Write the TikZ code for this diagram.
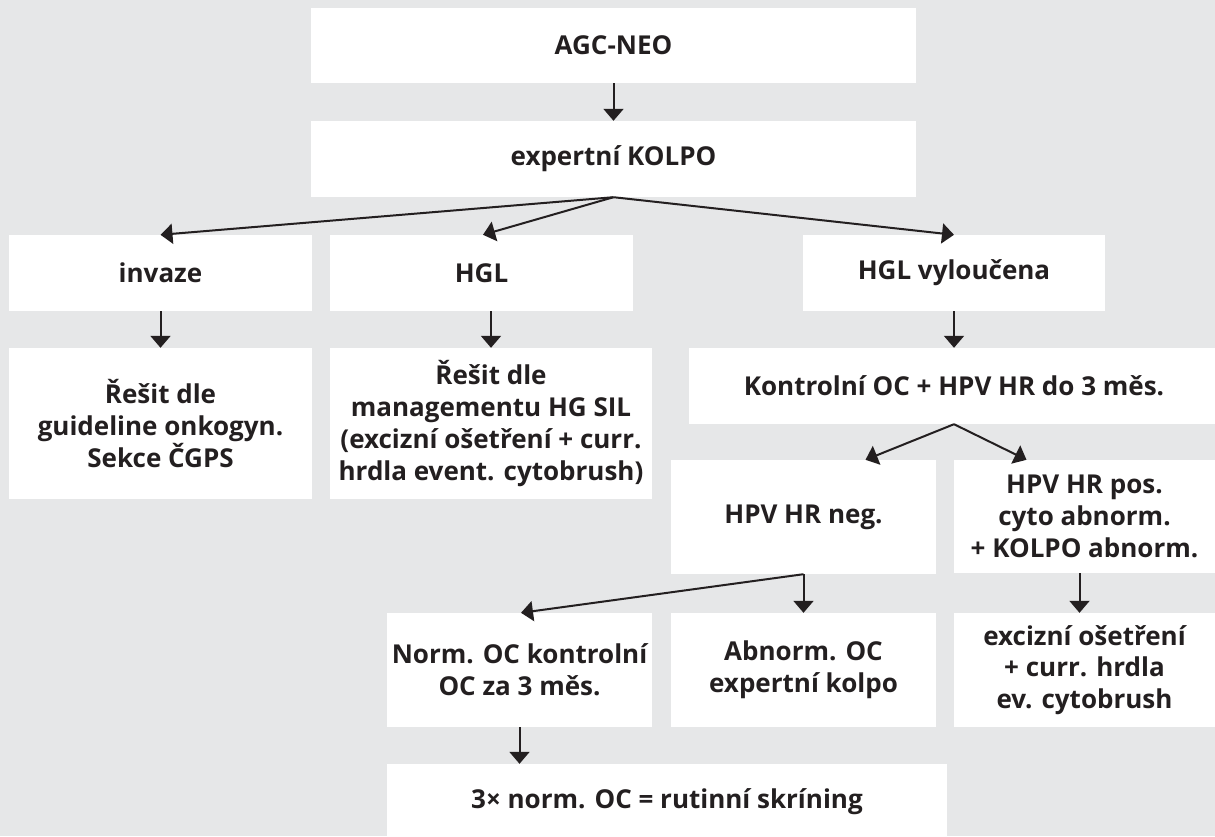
\documentclass[tikz,border=0pt]{standalone}
\usepackage{fontspec}
\setmainfont{Open Sans}
\usetikzlibrary{arrows.meta,calc}
\definecolor{bg}{HTML}{E6E7E8}
\definecolor{ink}{HTML}{231F20}
\begin{document}
\begin{tikzpicture}[x=1pt,y=-1pt,
  box/.style={fill=white, inner sep=0pt, align=center, text=ink,
    font=\fontsize{26}{31.7}\selectfont\bfseries},
  arr/.style={draw=ink, line width=2pt, -{Triangle[length=12pt,width=20pt]}}]
\useasboundingbox (0,0) rectangle (1215,836);
\clip (0,0) rectangle (1215,836);
\fill[bg] (0,0) rectangle (1215,836);

% boxes
\node[box, minimum width=605pt, minimum height=75pt] (agc) at (613.5,45.5) {AGC-NEO};
\node[box, minimum width=605pt, minimum height=76pt] (kolpo) at (613.5,159) {expertní KOLPO};
\node[box, minimum width=303pt, minimum height=76pt] (inv) at (160.5,273) {invaze};
\node[box, minimum width=303pt, minimum height=76pt] (hgl) at (481.5,273) {HGL};
\node[box, minimum width=302pt, minimum height=76pt] (hglv) at (954,273) {HGL vyloučena};
\node[box, minimum width=303pt, minimum height=151pt] (res1) at (160.5,423.5)
  {Řešit dle\\guideline onkogyn.\\Sekce ČGPS};
\node[box, minimum width=322pt, minimum height=151pt] (res2) at (491,423.5)
  {Řešit dle\\managementu HG SIL\\(excizní ošetření + curr.\\hrdla event. cytobrush)};
\node[box, minimum width=530pt, minimum height=76pt] (kontr) at (954,386)
  {Kontrolní OC + HPV HR do 3 měs.};
\node[box, minimum width=265pt, minimum height=114pt] (hpvneg) at (803.5,517) {HPV HR neg.};
\node[box, minimum width=261pt, minimum height=113pt] (hpvpos) at (1084.5,516.5)
  {HPV HR pos.\\cyto abnorm.\\+ KOLPO abnorm.};
\node[box, minimum width=265pt, minimum height=114pt] (norm) at (519.5,670)
  {Norm. OC kontrolní\\OC za 3 měs.};
\node[box, minimum width=265pt, minimum height=114pt] (abn) at (803.5,670)
  {Abnorm. OC\\expertní kolpo};
\node[box, minimum width=261pt, minimum height=114pt] (exc) at (1084.5,670)
  {excizní ošetření\\+ curr. hrdla\\ev. cytobrush};
\node[box, minimum width=560pt, minimum height=76pt] (rout) at (667,802)
  {3× norm. OC = rutinní skríning};

% connectors
\draw[arr] (agc.south) -- (kolpo.north);
\draw[arr] (kolpo.south) -- (inv.north);
\draw[arr] (kolpo.south) -- ($(hgl.north)+(1.5,0)$);
\draw[arr] (kolpo.south) -- (hglv.north);
\draw[arr] (inv.south) -- (res1.north);
\draw[arr] (res2.north |- hgl.south) -- (res2.north);
\draw[arr] (hglv.south) -- (kontr.north);
\draw[arr] (kontr.south) -- ($(hpvneg.north)+(62,0)$);
\draw[arr] (kontr.south) -- ($(hpvpos.north)+(-58,0)$);
\draw[arr] (hpvneg.south) -- ($(norm.north)+(1.5,0)$);
\draw[arr] (hpvneg.south) -- (abn.north);
\draw[arr] ($(hpvpos.south)+(-5,0)$) -- ($(exc.north)+(-5,0)$);
\draw[arr] (norm.south) -- (norm.south |- rout.north);
\end{tikzpicture}
\end{document}
